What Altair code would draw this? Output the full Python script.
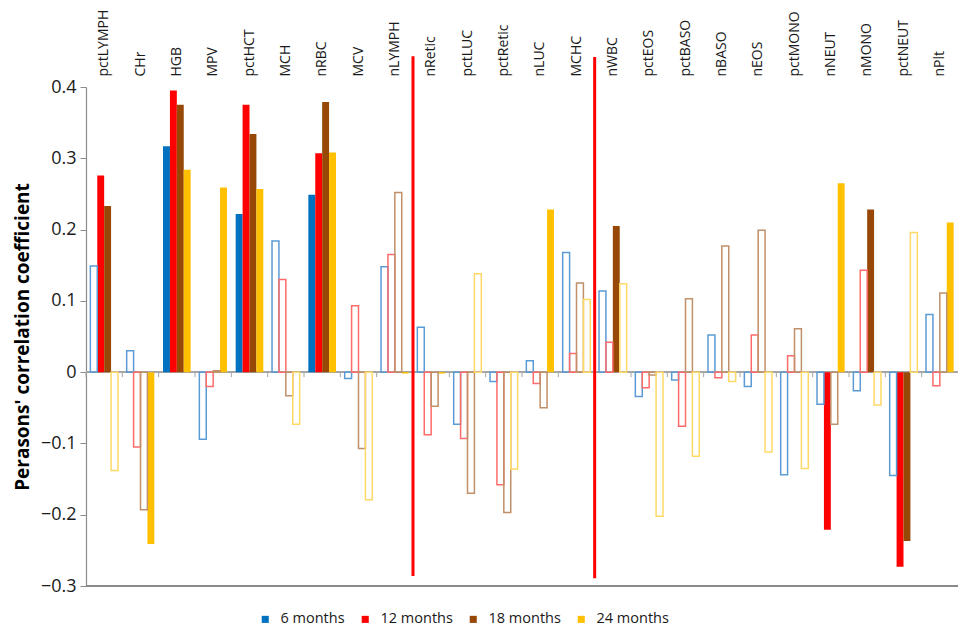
import altair as alt
import pandas as pd

categories = ["pctLYMPH", "CHr", "HGB", "MPV", "pctHCT", "MCH", "nRBC", "MCV", "nLYMPH",
              "nRetic", "pctLUC", "pctRetic", "nLUC", "MCHC",
              "nWBC", "pctEOS", "pctBASO", "nBASO", "nEOS", "pctMONO", "nNEUT", "nMONO", "pctNEUT", "nPlt"]
series = ["6 months", "12 months", "18 months", "24 months"]

r_6m = [0.149, 0.030, 0.317, -0.094, 0.222, 0.184, 0.249, -0.009, 0.148,
        0.063, -0.073, -0.013, 0.016, 0.168,
        0.114, -0.034, -0.011, 0.052, -0.020, -0.144, -0.045, -0.026, -0.145, 0.081]
r_12m = [0.276, -0.105, 0.395, -0.020, 0.375, 0.130, 0.307, 0.093, 0.165,
         -0.088, -0.093, -0.158, -0.016, 0.026,
         0.042, -0.022, -0.076, -0.008, 0.052, 0.023, -0.221, 0.143, -0.273, -0.019]
r_18m = [0.233, -0.193, 0.375, 0.002, 0.334, -0.033, 0.379, -0.107, 0.252,
         -0.048, -0.170, -0.197, -0.050, 0.125,
         0.205, -0.004, 0.103, 0.177, 0.199, 0.061, -0.073, 0.228, -0.237, 0.111]
r_24m = [-0.138, -0.241, 0.284, 0.259, 0.257, -0.073, 0.308, -0.179, -0.002,
         -0.002, 0.138, -0.136, 0.228, 0.102,
         0.124, -0.202, -0.118, -0.013, -0.112, -0.135, 0.265, -0.046, 0.196, 0.210]

# categories drawn as filled (significant) bars for each series
filled_6m = ["HGB", "pctHCT", "nRBC"]
filled_12m = ["pctLYMPH", "HGB", "pctHCT", "nRBC", "nNEUT", "pctNEUT"]
filled_18m = ["pctLYMPH", "HGB", "pctHCT", "nRBC", "nWBC", "nMONO", "pctNEUT"]
filled_24m = ["CHr", "HGB", "MPV", "pctHCT", "nRBC", "nLYMPH", "nRetic", "nLUC", "nNEUT", "nPlt"]

sep_cats = ["nRetic", "nWBC"]
sep_top = [0.443, 0.442]
sep_bottom = [-0.286, -0.289]

fill_colors = ["#0070C0", "#FF0000", "#974806", "#FFC000"]
outline_colors = ["#5B9BD5", "#FF6B6B", "#C0906A", "#FFD966"]

rows = []
for s, vals, filled in zip(series, [r_6m, r_12m, r_18m, r_24m],
                           [filled_6m, filled_12m, filled_18m, filled_24m]):
    for c, v in zip(categories, vals):
        rows.append({"cat": c, "series": s, "r": v, "filled": c in filled})
df = pd.DataFrame(rows)
sep_df = pd.DataFrame({"cat": sep_cats, "y_hi": sep_top, "y_lo": sep_bottom})
cat_df = pd.DataFrame({"cat": categories})

W, H = 872, 499
FONT = "Open Sans"
x_scale = alt.Scale(domain=categories, paddingInner=0, paddingOuter=0)
y_scale = alt.Scale(domain=[-0.3, 0.4], nice=False, zero=False, clamp=False)
xoff = alt.XOffset("series:N", sort=series,
                   scale=alt.Scale(domain=series, paddingInner=0, paddingOuter=0.63))

y_axis = alt.Axis(
    values=[-0.3, -0.2, -0.1, 0, 0.1, 0.2, 0.3, 0.4], format=".1~f",
    title="Perasons' correlation coefficient", titleFont=FONT, titleFontSize=19,
    titleFontWeight="bold", titleColor="#000000", titlePadding=8,
    labelFont=FONT, labelFontSize=18, labelColor="#1a1a1a", labelPadding=4,
    tickSize=6, tickColor="#8c8c8c", domainColor="#8c8c8c", domainWidth=1.2,
    gridColor="#c3c3c3", gridWidth=1.3,
)
x_axis = alt.Axis(orient="top", title=None, labelAngle=-90, domain=False, ticks=False,
                  grid=False, labelPadding=11, labelFont=FONT, labelFontSize=14,
                  labelColor="#1a1a1a")

# horizontal reference lines: zero line and bottom frame line
zero_line = alt.Chart(cat_df).mark_rule(color="#a6a6a6", strokeWidth=1.3).encode(
    y=alt.datum(0, scale=y_scale, axis=y_axis))
bottom_line = alt.Chart(cat_df).mark_rule(color="#8a8a8a", strokeWidth=1.6).encode(
    y=alt.datum(-0.3))
# small tick marks at the category boundaries on the zero line
boundary_ticks = alt.Chart(cat_df).mark_rule(color="#a6a6a6", strokeWidth=1).encode(
    x=alt.X("cat:N", scale=x_scale, sort=categories, bandPosition=0, axis=x_axis),
    y=alt.datum(0),
    y2=alt.datum(-0.007),
)

filled_bars = alt.Chart(df).transform_filter("datum.filled").mark_bar().encode(
    x=alt.X("cat:N", scale=x_scale, sort=categories),
    xOffset=xoff,
    y=alt.Y("r:Q", scale=y_scale, stack=None),
    y2=alt.datum(0),
    color=alt.Color("series:N", sort=series,
                    scale=alt.Scale(domain=series, range=fill_colors),
                    legend=alt.Legend(orient="none", legendX=172, legendY=525,
                                      direction="horizontal", title=None,
                                      labelFont=FONT, labelFontSize=14.5, labelColor="#1a1a1a",
                                      symbolType="square", symbolSize=50, symbolStrokeWidth=0,
                                      columnPadding=13, labelOffset=8)),
)

hollow_bars = alt.Chart(df).transform_filter("!datum.filled").mark_bar(
    fill="#ffffff", fillOpacity=0, strokeWidth=1.5
).encode(
    x=alt.X("cat:N", scale=x_scale, sort=categories),
    xOffset=xoff,
    y=alt.Y("r:Q", scale=y_scale, stack=None),
    y2=alt.datum(0),
    stroke=alt.Stroke("series:N", sort=series,
                      scale=alt.Scale(domain=series, range=outline_colors), legend=None),
)

separators = alt.Chart(sep_df).mark_rule(color="#FF0000", strokeWidth=3, clip=False).encode(
    x=alt.X("cat:N", scale=x_scale, sort=categories, bandPosition=0),
    y=alt.Y("y_lo:Q", scale=y_scale),
    y2="y_hi:Q",
)

chart = alt.layer(zero_line, bottom_line, boundary_ticks, filled_bars, hollow_bars, separators).properties(
    width=W, height=H,
    padding={"left": 5, "top": 1, "right": 2, "bottom": 0},
).configure(font=FONT).configure_view(stroke="transparent", clip=False)

chart.save("out.html", embed_options={"renderer": "svg", "actions": False})
